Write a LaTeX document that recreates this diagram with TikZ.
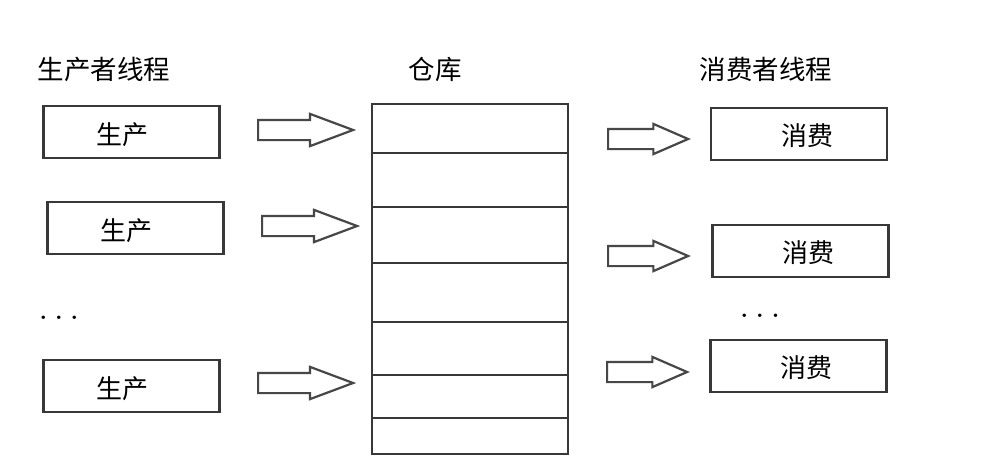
\documentclass[tikz,border=0pt]{standalone}
\usepackage{fontspec}
\newfontfamily\cjk{Noto Sans CJK SC}
\usetikzlibrary{shapes.arrows}
\tikzset{
  box/.style={draw=black!78, line width=2.4pt, fill=white, minimum width=176pt, minimum height=52pt, inner sep=0pt},
  title/.style={font=\cjk\fontsize{26.5}{28}\selectfont, inner sep=0pt},
  boxtext/.style={font=\cjk\fontsize{26}{28}\selectfont},
  blockarrow/.style={single arrow, anchor=tail, draw=black!72, line width=2.2pt, fill=white, inner xsep=0pt, inner ysep=9pt, single arrow head indent=0pt},
  leftarrow/.style={blockarrow, minimum height=95pt, single arrow head extend=6pt, single arrow tip angle=41},
  rightarrow/.style={blockarrow, minimum height=80pt, single arrow head extend=5pt, single arrow tip angle=47},
  shelf/.style={draw=black!78, line width=2.2pt},
  dots/.style={font=\bfseries\fontsize{24}{26}\selectfont, inner sep=0pt}
}
\newcommand{\mydots}{.\hspace{8pt}.\hspace{8pt}.}
\begin{document}
\begin{tikzpicture}[x=1pt,y=-1pt]
\fill[white] (0,0) rectangle (981,471);
\useasboundingbox (0,0) rectangle (981,471);

% titles
\node[title] (tp) at (104,69) {生产者线程};
\node[title] (tw) at (435,69) {仓库};
\node[title] (tc) at (766,69) {消费者线程};

% producer boxes
\node[box, label={[boxtext, xshift=-9pt, yshift=-3pt]center:生产}] (p1) at (131.5,132) {};
\node[box, label={[boxtext, xshift=-9pt, yshift=-3pt]center:生产}] (p2) at (135.5,228) {};
\node[box, label={[boxtext, xshift=-9pt, yshift=-3pt]center:生产}] (p3) at (131.5,386) {};
\node[dots] (pd) at (59,318) {\mydots};

% warehouse
\node[draw=black!78, line width=2.4pt, minimum width=196pt, minimum height=350pt, inner sep=0pt] (wh) at (470,279) {};
\foreach \yy in {153,207,263,322,375,418}
  \draw[shelf] (wh.west |- 0,\yy) -- (wh.east |- 0,\yy);

% consumer boxes
\node[box, label={[boxtext, xshift=8pt, yshift=-2pt]center:消费}] (c1) at (799,134) {};
\node[box, label={[boxtext, xshift=8pt, yshift=-2pt]center:消费}] (c2) at (800.5,251) {};
\node[box, label={[boxtext, xshift=8pt, yshift=-2pt]center:消费}] (c3) at (798.5,366) {};
\node[dots] (cd) at (760,316) {\mydots};

% arrows producer -> warehouse
\node[leftarrow] (a1) at (257,130) {};
\node[leftarrow] (a2) at (261,226) {};
\node[leftarrow] (a3) at (257,383) {};

% arrows warehouse -> consumer
\node[rightarrow] (b1) at (607,139) {};
\node[rightarrow] (b2) at (607,256) {};
\node[rightarrow] (b3) at (606,372) {};
\end{tikzpicture}
\end{document}
